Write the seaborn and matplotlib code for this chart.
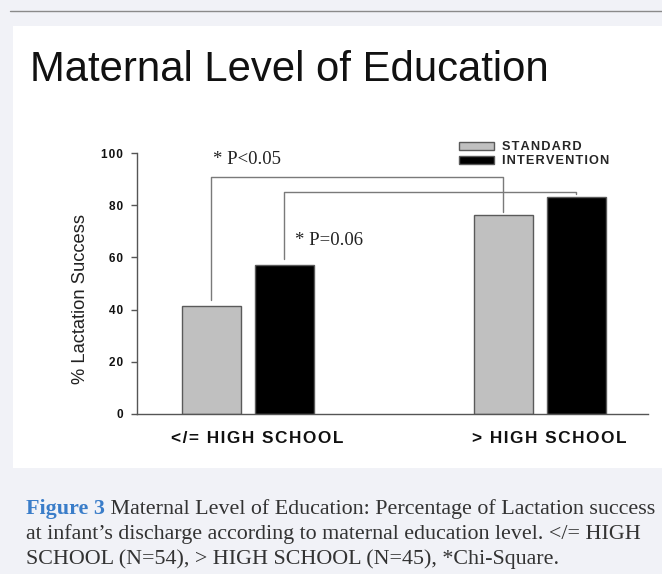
import matplotlib
matplotlib.use("Agg")
import matplotlib.pyplot as plt
from matplotlib.patches import Rectangle
from matplotlib.lines import Line2D
import matplotlib.transforms as mtransforms
import pandas as pd
import seaborn as sns

# data
education = ['</= HIGH SCHOOL', '> HIGH SCHOOL']
groups = ['STANDARD', 'INTERVENTION']
standard_pct = [41.4, 76.2]
intervention_pct = [57.1, 83.1]
yticks = [0, 20, 40, 60, 80, 100]
p_labels = ['* P<0.05', '* P=0.06']
caption = ['Maternal Level of Education: Percentage of Lactation success',
           'at infant\u2019s discharge according to maternal education level. </= HIGH',
           'SCHOOL (N=54), > HIGH SCHOOL (N=45), *Chi-Square.']

df = pd.DataFrame({'edu': education * 2,
                   'group': [groups[0]] * 2 + [groups[1]] * 2,
                   'pct': standard_pct + intervention_pct})

sns.set_style('white')
plt.rcParams['font.family'] = ['Liberation Sans', 'DejaVu Sans']


def spaced(s, gap='\u200a'):
    # the original labels are letter-spaced
    return gap.join(s)


W, H = 662, 574
fig = plt.figure(figsize=(W / 100, H / 100), dpi=100)
fig.patch.set_facecolor('#f1f2f7')
fig.patches.append(Rectangle((13 / W, 1 - 468 / H), 1, (468 - 26) / H, transform=fig.transFigure,
                             facecolor='white', edgecolor='none', zorder=-5))
fig.lines.append(Line2D([10 / W, 1], [1 - 11 / H] * 2, transform=fig.transFigure, color='#8a8a8a', lw=1))

ax = fig.add_axes([137 / W, 1 - 414 / H, (648 - 137) / W, (414 - 153) / H])
ax.set_zorder(2)
ax.patch.set_alpha(0)
sns.barplot(data=df, x='edu', y='pct', hue='group', palette=['#c0c0c0', '#000000'],
            width=0.5, gap=0.19, edgecolor='#5a5a5a', linewidth=1, errorbar=None, ax=ax)

ax.set_xlim(-0.38, 1.37)
ax.set_ylim(0, 100)
ax.set_yticks(yticks)
ax.set_yticklabels([spaced(str(v)) for v in yticks])
ax.set_xticks(range(len(education)))
ax.set_xticklabels([spaced(e) for e in education])
sns.despine(ax=ax)
for s in ['left', 'bottom']:
    ax.spines[s].set_color('#555555')
    ax.spines[s].set_linewidth(1)
ax.tick_params(axis='y', left=True, length=4, width=1, color='#555555', labelsize=8.5, pad=6)
ax.tick_params(axis='x', length=0, labelsize=12.4, pad=12)
for lab in ax.get_yticklabels() + ax.get_xticklabels():
    lab.set_fontweight('bold')
    lab.set_color('#111111')
shift = mtransforms.ScaledTranslation(9 / 100, 0, fig.dpi_scale_trans)
for lab in ax.get_xticklabels():
    lab.set_transform(lab.get_transform() + shift)
ax.set_xlabel('')
ax.set_ylabel('% Lactation Success', fontsize=13.2, color='#222222')
ax.yaxis.set_label_coords(-0.093, 0.44)


def centre(bar):
    return bar.get_x() + bar.get_width() / 2


# significance brackets between matching groups
levels = [90.8, 85.0]
for bars, level in zip(ax.containers, levels):
    b0, b1 = bars[0], bars[1]
    x0, x1 = centre(b0), centre(b1)
    ax.plot([x0, x0, x1, x1], [b0.get_height() + 2.4, level, level, b1.get_height() + 1.3],
            color='#7a7a7a', lw=1, clip_on=False)

ax.text(centre(ax.containers[0][0]) + 0.006, 97.7, p_labels[0], family='Liberation Serif',
        fontsize=13.5, va='center', ha='left', color='#222222')
ax.text(centre(ax.containers[1][0]) + 0.036, 66.3, p_labels[1], family='Liberation Serif',
        fontsize=13.5, va='center', ha='left', color='#222222')

handles, labels = ax.get_legend_handles_labels()
ax.legend(handles, [spaced(l) for l in labels], loc='upper left', bbox_to_anchor=(453 / W, 1 - 135 / H),
          bbox_transform=fig.transFigure, frameon=False, handlelength=2.7, handleheight=0.55,
          handletextpad=0.6, labelspacing=0.15, borderpad=0,
          prop={'weight': 'bold', 'size': 9.2})

fig.text(30 / W, 1 - 81 / H, 'Maternal Level of Education', fontsize=30.2, va='baseline', color='#111111')

cap_size = 15.8
t1 = fig.text(26 / W, 1 - 514 / H, 'Figure 3', family='Liberation Serif', weight='bold',
              color='#3a7dc9', fontsize=cap_size, va='baseline')
ax.annotate(' ' + caption[0], xy=(1, 0), xycoords=t1, va='bottom', ha='left',
            family='Liberation Serif', fontsize=cap_size, color='#333333', annotation_clip=False)
fig.text(26 / W, 1 - 539 / H, caption[1], family='Liberation Serif', fontsize=cap_size,
         color='#333333', va='baseline')
fig.text(26 / W, 1 - 564 / H, caption[2], family='Liberation Serif', fontsize=cap_size,
         color='#333333', va='baseline')

fig.savefig('out.png', dpi=100, facecolor=fig.get_facecolor())
